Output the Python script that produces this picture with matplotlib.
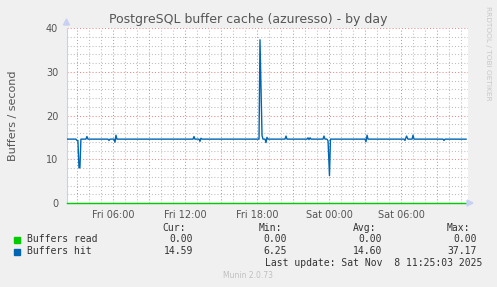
import matplotlib
matplotlib.use("Agg")
import matplotlib.pyplot as plt
from matplotlib.ticker import MultipleLocator

# hours since Fri 00:00
hit_hours = [2.14, 2.92, 3.00, 3.08, 3.17, 3.25, 3.33, 3.75, 3.83, 3.92,
             5.58, 5.67, 5.75, 6.08, 6.17, 6.25, 6.33,
             12.67, 12.75, 12.83, 13.17, 13.25, 13.33, 13.42,
             18.17, 18.25, 18.42, 18.50, 18.67, 18.75, 18.83, 18.92,
             20.33, 20.42, 20.50, 22.17, 22.25, 22.33, 22.42, 22.50,
             23.50, 23.58, 23.67, 23.83, 23.92, 24.04, 24.12,
             27.00, 27.08, 27.17, 27.25,
             30.25, 30.33, 30.46, 30.58, 30.92, 31.00, 31.08,
             33.50, 33.58, 33.67, 35.42]
hit_values = [14.6, 14.6, 14.3, 14.3, 8.0, 8.1, 14.6, 14.6, 15.2, 14.6,
              14.6, 14.3, 14.6, 14.6, 13.9, 15.5, 14.6,
              14.6, 15.2, 14.6, 14.6, 14.1, 14.8, 14.6,
              14.6, 37.3, 15.4, 14.6, 14.6, 13.8, 15.0, 14.6,
              14.6, 15.3, 14.6, 14.6, 14.9, 14.5, 14.9, 14.6,
              14.6, 15.3, 14.6, 14.6, 14.2, 6.25, 14.6,
              14.6, 14.0, 15.5, 14.6,
              14.6, 14.3, 15.3, 14.6, 14.6, 15.5, 14.6,
              14.6, 14.3, 14.6, 14.59]
read_hours = [2.14, 35.42]
read_values = [0.0, 0.0]

tick_hours = [6, 12, 18, 24, 30]
tick_labels = ["Fri 06:00", "Fri 12:00", "Fri 18:00", "Sat 00:00", "Sat 06:00"]

legend_names = ["Buffers read", "Buffers hit"]
legend_colors = ["#00cc00", "#0066b3"]
cur_vals = ["0.00", "14.59"]
min_vals = ["0.00", "6.25"]
avg_vals = ["0.00", "14.60"]
max_vals = ["0.00", "37.17"]

W, H = 497, 287
fig = plt.figure(figsize=(W / 100, H / 100), dpi=100, facecolor="#f0f0f0")
ax = fig.add_axes([66.5 / W, 1 - 203 / H, (468 - 66.5) / W, 175 / H])
ax.set_facecolor("white")

def px(x, y):
    return x / W, 1 - y / H

ax.set_xlim(2.13, 35.58)
ax.set_ylim(0, 40)

# grid: red every 3h / 10 units, grey every 1h / 2 units
ax.xaxis.set_minor_locator(MultipleLocator(1))
ax.xaxis.set_major_locator(MultipleLocator(3))
ax.yaxis.set_minor_locator(MultipleLocator(2))
ax.yaxis.set_major_locator(MultipleLocator(10))
ax.grid(which="minor", color="#bdbdbd", lw=0.75, ls=(0, (1, 2)))
ax.grid(which="major", color="#e58a8a", lw=0.75, ls=(0, (1, 2)))
ax.set_axisbelow(True)

ax.tick_params(axis="x", which="both", length=0, labelbottom=False)
ax.tick_params(axis="y", which="both", length=0, labelsize=7, labelcolor="#555555", pad=6)
for s in ["top", "right"]:
    ax.spines[s].set_visible(False)
ax.spines["left"].set_color("#c8d0f4")
ax.spines["bottom"].set_color("#c8d0f4")

for h, lab in zip(tick_hours, tick_labels):
    ax.text(h, -1.5, lab, ha="center", va="top", fontsize=7, color="#555555")

ax.plot(read_hours, read_values, color=legend_colors[0], lw=1.0, clip_on=False, zorder=3)
ax.plot(hit_hours, hit_values, color=legend_colors[1], lw=1.0, zorder=3)

# axis arrows
fig.patches.append(plt.Polygon([px(63.5, 25), px(69.5, 25), px(66.5, 19)], closed=True,
                               transform=fig.transFigure, color="#c8d0f4"))
fig.patches.append(plt.Polygon([px(467, 200), px(467, 206), px(473, 203)], closed=True,
                               transform=fig.transFigure, color="#c8d0f4"))

ax.set_ylabel("Buffers / second", fontsize=8, color="#555555", labelpad=20)

fig.text(*px(248, 19), "PostgreSQL buffer cache (azuresso) - by day", ha="center",
         va="center", fontsize=9, color="#555555")
fig.text(*px(488, 53), "RRDTOOL / TOBI OETIKER", rotation=270, ha="center", va="center",
         fontsize=5.3, color="#c8c8c8")

mono = "DejaVu Sans Mono"
tc = "#333333"
fig.text(*px(186, 228), "Cur:", ha="right", va="center", family=mono, fontsize=7, color=tc)
fig.text(*px(282, 228), "Min:", ha="right", va="center", family=mono, fontsize=7, color=tc)
fig.text(*px(376, 228), "Avg:", ha="right", va="center", family=mono, fontsize=7, color=tc)
fig.text(*px(470, 228), "Max:", ha="right", va="center", family=mono, fontsize=7, color=tc)
for i in range(2):
    y = 239.5 + 12 * i
    fig.patches.append(plt.Rectangle(px(14, y + 3), 6 / W, 6 / H, transform=fig.transFigure,
                                     color=legend_colors[i]))
    fig.text(*px(27, y), legend_names[i], ha="left", va="center", family=mono, fontsize=7, color=tc)
    fig.text(*px(193, y), cur_vals[i], ha="right", va="center", family=mono, fontsize=7, color=tc)
    fig.text(*px(287, y), min_vals[i], ha="right", va="center", family=mono, fontsize=7, color=tc)
    fig.text(*px(382, y), avg_vals[i], ha="right", va="center", family=mono, fontsize=7, color=tc)
    fig.text(*px(477, y), max_vals[i], ha="right", va="center", family=mono, fontsize=7, color=tc)

fig.text(*px(482, 263.5), "Last update: Sat Nov  8 11:25:03 2025", ha="right", va="center",
         family=mono, fontsize=7, color=tc)
fig.text(*px(248, 276), "Munin 2.0.73", ha="center", va="center", fontsize=5.5, color="#c0c0c0")

fig.savefig("out.png", dpi=100, facecolor=fig.get_facecolor())
